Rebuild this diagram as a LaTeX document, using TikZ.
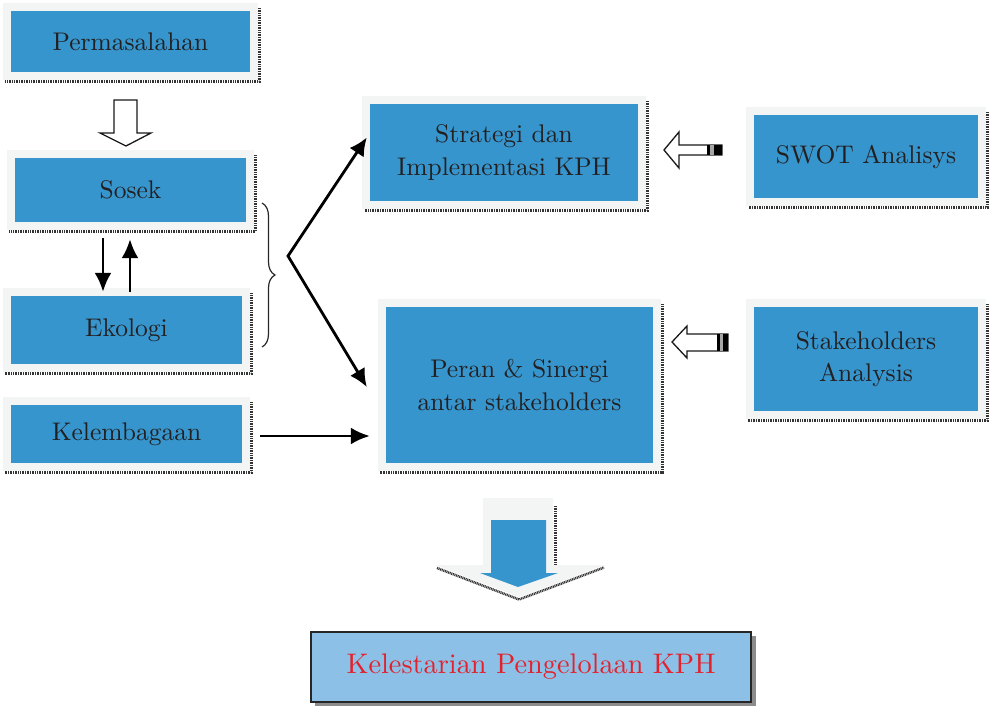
\documentclass[tikz,border=0pt]{standalone}
\usepackage{fontspec}
\setmainfont{lmroman10-regular.otf}
\usetikzlibrary{positioning,arrows.meta,fit,backgrounds,decorations.pathreplacing}
\definecolor{kotakbiru}{HTML}{3695CD}
\definecolor{bingkaiwarna}{HTML}{F2F5F4}
\definecolor{teks}{HTML}{231F20}
\definecolor{hasilbiru}{HTML}{8DC0E6}
\definecolor{merah}{HTML}{E4202B}
\tikzset{
kotak/.style={
  fill=kotakbiru,
  text=teks,
  align=center,
  inner sep=0pt,
  font=\fontsize{25.5}{32.5}\selectfont
  },
bingkai/.style={
  fill=bingkaiwarna,
  inner sep=7.5pt
  },
bayang/.style={
  draw=black!80,
  line width=3pt,
  dash pattern=on 1pt off 0.7pt
  },
panah/.style={
  line width=2.8pt,
  -{Latex[length=19pt,width=17pt]}
  },
blok/.style={
  draw=black!90,
  fill=white,
  line width=1.3pt,
  line join=miter
  }
}

\begin{document}
\begin{tikzpicture}[x=1pt,y=-1pt,>=latex]
\useasboundingbox (0,0) rectangle (990,706);

\node[kotak,minimum width=239pt,minimum height=61pt] (perm) at (130.5,41.5) {Permasalahan};
\node[kotak,minimum width=231pt,minimum height=64pt] (sosek) at (130.5,190) {Sosek};
\node[kotak,minimum width=231pt,minimum height=68pt] (ekologi) at (126.5,330) {Ekologi};
\node[kotak,minimum width=231pt,minimum height=58pt] (lembaga) at (126.5,434) {Kelembagaan};

\node[kotak,minimum width=268pt,minimum height=97pt] (strategi) at (504,152.5) {Strategi dan\\Implementasi KPH};
\node[kotak,minimum width=267pt,minimum height=156pt] (peran) at (519.5,385) {Peran \& Sinergi\\antar stakeholders};

\node[kotak,minimum width=224pt,minimum height=83pt] (swot) at (866,156.5) {SWOT Analisys};
\node[kotak,minimum width=224pt,minimum height=104pt] (stake) at (866,359) {Stakeholders\\Analysis};

\node[kotak,fill=hasilbiru,draw=black!85,line width=1.5pt,text=merah,
  font=\fontsize{28.3}{34}\selectfont,minimum width=440pt,minimum height=70pt]
  (lestari) at (531,667) {Kelestarian Pengelolaan KPH};

\begin{scope}[on background layer]
\foreach \n in {perm,sosek,ekologi,lembaga,strategi,peran,swot,stake}{
  \node[bingkai,fit=(\n)] (\n-b) {};
  \draw[bayang] ([shift={(1.5pt,-5pt)}]\n-b.north east) |- ([shift={(2pt,-1.5pt)}]\n-b.south west);
}
\fill[black!45] ([shift={(4.5pt,-4.5pt)}]lestari.north west) rectangle ([shift={(4.5pt,-4.5pt)}]lestari.south east);
\end{scope}

\draw[blok] (114,100) -- (137,100) -- (137,133) -- (151,133) -- (126,146) -- (100,133) -- (114,133) -- cycle;

\draw[blok] (664,150) -- (679,132) -- (679,145) -- (722,145) -- (722,155) -- (679,155) -- (679,168) -- cycle;
\fill[black] (707,145) rectangle (709.5,155);
\fill[black!35] (709.5,145) rectangle (714,155);
\fill[black] (714,145) rectangle (722,155);

\draw[blok] (672,342) -- (687,326) -- (687,334) -- (728,334) -- (728,351) -- (687,351) -- (687,358) -- cycle;
\fill[black] (717,334) rectangle (719.5,351);
\fill[black!35] (719.5,334) rectangle (723,351);
\fill[black] (723,334) rectangle (728,351);

\draw[bayang,line width=2.5pt] (555.5,506) -- (555.5,566);
\draw[bayang,line width=2.5pt] (437,568) -- (519,599.5) -- (604,567.5);
\fill[bingkaiwarna] (483,498) -- (553,498) -- (553,565) -- (605,565) -- (519,597) -- (435,565) -- (483,565) -- cycle;
\fill[kotakbiru] (491,520) -- (546,520) -- (546,573) -- (558,573) -- (518,587) -- (480,573) -- (491,573) -- cycle;

\draw[panah,shorten <=16pt,shorten >=4pt] ([xshift=-27.5pt]sosek.south) -- ([xshift=-27.5pt]sosek.south |- ekologi.north);
\draw[panah,shorten <=4pt,shorten >=17pt] ([xshift=3.5pt]ekologi.north) -- ([xshift=3.5pt]ekologi.north |- sosek.south);

\draw[decorate,decoration={brace,amplitude=13pt},line width=1.2pt,draw=black!85] (262,203) -- (262,347);

\coordinate (apex) at (288,256);
\draw[line width=2.8pt,{Latex[length=18pt,width=17pt]}-{Latex[length=18pt,width=17pt]},line join=miter]
  ([shift={(-3pt,15pt)}]strategi.west) -- (apex) -- ([shift={(-19pt,-2pt)}]peran.west);

\draw[panah,shorten <=18pt] ([yshift=-2pt]lembaga.east) -- ([xshift=-16pt,yshift=-2pt]lembaga.east -| peran.west);

\end{tikzpicture}
\end{document}
